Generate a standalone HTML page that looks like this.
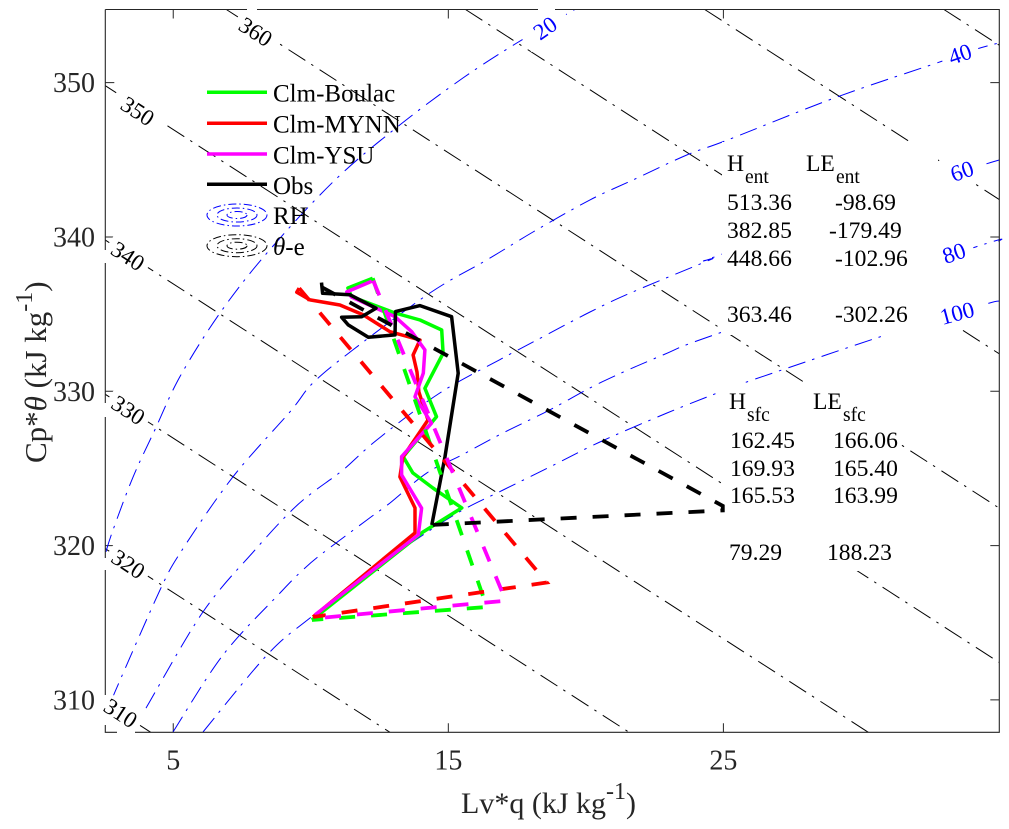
<!DOCTYPE html>
<html lang="en">
<head>
<meta charset="utf-8">
<title>Mixing diagram</title>
<style>
html,body{margin:0;padding:0;background:#fff;width:1009px;height:829px;overflow:hidden;}
svg{display:block;font-family:"Liberation Serif",serif;}
</style>
</head>
<body>
<svg id="chart" width="1009" height="829" viewBox="0 0 1009 829" xmlns="http://www.w3.org/2000/svg">
  <rect x="0" y="0" width="1009" height="829" fill="#fff"/>
  <g id="ticks"></g>
  <g id="theta-lines"></g>
  <g id="rh-lines"></g>
  <rect x="722" y="142" width="216" height="193" fill="#fff"/>
  <rect x="722" y="383" width="179" height="188" fill="#fff"/>
  <g id="contour-labels"></g>
  <path fill="none" stroke="#262626" stroke-width="1.1" d="M105.3 9.5V250M105.3 263V403M105.3 417V558M105.3 570V695M105.3 725V732.3H117M135 732.3H999.3V9.5H555M538 9.5H257M247 9.5H105.3"/>
  <g id="series"></g>

  <g id="y-tick-labels" font-size="28" fill="#262626" text-anchor="end"></g>
  <g id="x-tick-labels" font-size="28" fill="#262626" text-anchor="middle"></g>
  <text x="461" y="813" font-size="30" fill="#262626">Lv*q (kJ kg<tspan dy="-14" font-size="24">-1</tspan><tspan dy="14">)</tspan></text>
  <text transform="translate(46,463) rotate(-90)" font-size="31" fill="#262626">Cp*<tspan font-style="italic">θ</tspan> (kJ kg<tspan dy="-14" font-size="24">-1</tspan><tspan dy="14">)</tspan></text>

  <g font-size="25" fill="#000">
    <line x1="207" x2="267" y1="92.3" y2="92.3" stroke="#00ff00" stroke-width="3.5"/>
    <text x="273" y="101.7">Clm-Boulac</text>
    <line x1="207" x2="267" y1="123.3" y2="123.3" stroke="#ff0000" stroke-width="3.5"/>
    <text x="273" y="132.7">Clm-MYNN</text>
    <line x1="207" x2="267" y1="154" y2="154" stroke="#ff00ff" stroke-width="3.5"/>
    <text x="273" y="163.3">Clm-YSU</text>
    <line x1="207" x2="267" y1="184.3" y2="184.3" stroke="#000" stroke-width="3.5"/>
    <text x="273" y="194">Obs</text>
    <g fill="none" stroke="#0000ff" stroke-width="1" stroke-dasharray="8 3 1.5 3">
      <ellipse cx="237" cy="215" rx="30" ry="11"/>
      <ellipse cx="237" cy="215" rx="20" ry="7"/>
      <ellipse cx="237" cy="215" rx="10" ry="3.5"/>
    </g>
    <text x="273" y="224">RH</text>
    <g fill="none" stroke="#000" stroke-width="1" stroke-dasharray="8 3 1.5 3">
      <ellipse cx="237" cy="245.7" rx="30" ry="11"/>
      <ellipse cx="237" cy="245.7" rx="20" ry="7"/>
      <ellipse cx="237" cy="245.7" rx="10" ry="3.5"/>
    </g>
    <text x="273" y="255"><tspan font-style="italic">θ</tspan>-e</text>
  </g>

  <g font-size="23.6" fill="#000">
    <text x="727" y="171">H</text>
    <text x="745" y="183" font-size="19.5">ent</text>
    <text x="806" y="171">LE</text>
    <text x="836" y="183" font-size="19.5">ent</text>
    <text x="727" y="210">513.36</text>
    <text x="835" y="210">-98.69</text>
    <text x="727" y="238">382.85</text>
    <text x="829" y="238">-179.49</text>
    <text x="727" y="266">448.66</text>
    <text x="835" y="266">-102.96</text>
    <text x="727" y="322">363.46</text>
    <text x="835" y="322">-302.26</text>
  </g>
  <g font-size="23.6" fill="#000">
    <text x="729" y="409">H</text>
    <text x="747" y="421" font-size="19.5">sfc</text>
    <text x="813" y="409">LE</text>
    <text x="843" y="421" font-size="19.5">sfc</text>
    <text x="730" y="448">162.45</text>
    <text x="833" y="448">166.06</text>
    <text x="730" y="476">169.93</text>
    <text x="833" y="476">165.40</text>
    <text x="730" y="503">165.53</text>
    <text x="833" y="503">163.99</text>
    <text x="729" y="560">79.29</text>
    <text x="827" y="560">188.23</text>
  </g>
</svg>
<script>
// ---- chart data ----
var xTicks = [5, 15, 25];
var yTicks = [310, 320, 330, 340, 350];
var thetaLevels = [310, 320, 330, 340, 350, 360, 370, 380, 390];
var thetaSlope = 1.15;
var thetaOffset = -0.2;

var rh20X = [2.55, 2.81, 3.54, 4.33, 5.24, 6.70, 8.44, 10.88, 13.24, 15.53, 17.49, 19.06, 19.60];
var rh20Y = [319.59, 321.01, 324.45, 327.49, 330.93, 335.07, 339.03, 343.69, 347.26, 350.30, 352.57, 354.19, 354.74];
var rh40X = [2.77, 2.99, 4.52, 5.32, 7.17, 9.24, 10.08, 11.53, 14.33, 16.40, 18.08, 20.15, 21.71, 23.67, 25.16, 29.13, 32.98, 34.21, 35.01];
var rh40Y = [309.99, 310.97, 317.12, 319.71, 324.45, 328.66, 330.54, 332.68, 336.37, 338.51, 340.32, 342.40, 343.69, 345.31, 346.29, 349.07, 351.41, 352.18, 352.57];
var rh60X = [4.01, 6.08, 7.97, 9.21, 10.04, 11.17, 12.40, 14.69, 16.99, 18.22, 20.15, 21.71, 24.51, 24.87, 32.87, 34.43, 35.03];
var rh60Y = [309.47, 315.70, 319.71, 322.11, 323.41, 324.90, 326.84, 329.89, 332.16, 333.32, 335.14, 336.44, 338.51, 338.83, 343.82, 344.67, 344.99];
var rh80X = [4.99, 6.81, 8.88, 9.71, 10.44, 12.04, 12.88, 14.22, 15.49, 16.99, 18.69, 20.51, 22.80, 24.87, 34.07, 35.03];
var rh80Y = [307.92, 312.91, 316.93, 318.42, 319.52, 321.66, 322.76, 324.71, 325.87, 327.30, 328.79, 330.54, 332.35, 333.78, 339.29, 339.74];
var rh100X = [6.08, 8.41, 9.97, 12.26, 14.08, 15.53, 16.99, 18.69, 20.51, 22.95, 24.87, 25.96, 31.13, 34.43, 35.03];
var rh100Y = [307.92, 312.91, 315.31, 318.42, 320.69, 322.31, 323.60, 325.09, 326.71, 328.59, 329.95, 330.67, 333.78, 335.59, 335.85];

var boulacX = [12.25, 11.35, 11.48, 13.06, 13.97, 14.76, 14.81, 14.15, 14.57, 13.36, 13.71, 14.44, 15.49, 14.08, 10.04];
var boulacY = [337.32, 336.69, 336.13, 335.07, 334.62, 333.97, 332.46, 330.19, 328.35, 325.76, 324.71, 323.73, 322.44, 320.88, 315.18];
var mynnX = [9.58, 9.49, 9.97, 11.06, 11.91, 12.88, 13.97, 13.72, 13.86, 13.93, 14.26, 13.35, 13.24, 13.79, 13.79, 10.08];
var mynnY = [336.68, 336.42, 335.92, 335.59, 334.95, 333.86, 333.32, 332.35, 331.25, 329.95, 328.14, 325.74, 324.45, 322.44, 320.82, 315.37];
var ysuX = [12.27, 11.31, 11.48, 13.06, 13.67, 14.15, 14.09, 13.79, 14.39, 13.30, 13.30, 14.03, 13.91, 10.15];
var ysuY = [337.17, 336.44, 336.11, 334.83, 333.86, 332.68, 331.17, 329.65, 327.93, 325.76, 324.58, 322.42, 320.69, 315.50];
var obsX = [10.39, 10.43, 11.42, 12.37, 11.85, 11.12, 11.36, 12.09, 13.06, 13.08, 13.97, 15.12, 15.36, 14.88, 14.40];
var obsY = [337.04, 336.35, 336.26, 335.38, 334.83, 334.80, 334.30, 333.50, 333.65, 335.16, 335.55, 334.83, 331.17, 325.76, 321.34];

var boulacMixX = [12.25, 16.40, 10.04];
var boulacMixY = [337.32, 316.02, 315.18];
var mynnMixX = [9.58, 18.58, 10.08];
var mynnMixY = [336.68, 317.61, 315.37];
var ysuMixX = [12.27, 17.09, 10.15];
var ysuMixY = [337.17, 316.43, 315.28];
var obsMixX = [10.39, 24.98, 24.98, 14.40];
var obsMixY = [336.76, 322.57, 322.28, 321.34];

// ---- axis functions ----
var xDomain = [2.53, 35.03], xRange = [105.3, 999.3];
var yDomain = [307.9, 354.74], yRange = [732.3, 9.5];
function sx(v){ return xRange[0] + (v - xDomain[0]) * (xRange[1] - xRange[0]) / (xDomain[1] - xDomain[0]); }
function sy(v){ return yRange[0] + (v - yDomain[0]) * (yRange[1] - yRange[0]) / (yDomain[1] - yDomain[0]); }

var NS = 'http://www.w3.org/2000/svg';
function make(tag, attrs, parent){
  var el = document.createElementNS(NS, tag);
  for (var k in attrs) el.setAttribute(k, attrs[k]);
  parent.appendChild(el);
  return el;
}
function pointsOf(xs, ys){
  return xs.map(function(x, i){ return sx(x).toFixed(1) + ',' + sy(ys[i]).toFixed(1); }).join(' ');
}
// Smooth path through the points (Catmull-Rom to Bezier)
function smoothPath(xs, ys){
  var p = xs.map(function(x, i){ return [sx(x), sy(ys[i])]; });
  var d = 'M' + p[0][0].toFixed(1) + ' ' + p[0][1].toFixed(1);
  for (var i = 0; i < p.length - 1; i++){
    var a = p[Math.max(i-1,0)], b = p[i], c = p[i+1], e = p[Math.min(i+2,p.length-1)];
    var c1x = b[0] + (c[0]-a[0])/6, c1y = b[1] + (c[1]-a[1])/6;
    var c2x = c[0] - (e[0]-b[0])/6, c2y = c[1] - (e[1]-b[1])/6;
    d += 'C' + c1x.toFixed(1) + ' ' + c1y.toFixed(1) + ' ' + c2x.toFixed(1) + ' ' + c2y.toFixed(1) + ' ' + c[0].toFixed(1) + ' ' + c[1].toFixed(1);
  }
  return d;
}

// ticks
var tickG = document.getElementById('ticks');
var xLabG = document.getElementById('x-tick-labels');
var yLabG = document.getElementById('y-tick-labels');
var tickStyle = {stroke:'#262626', 'stroke-width':1};
xTicks.forEach(function(t){
  var d = 'M' + sx(t) + ' ' + yRange[0] + 'v-9M' + sx(t) + ' ' + yRange[1] + 'v9';
  var p = make('path', Object.assign({d:d}, tickStyle), tickG);
  
  
  var l = make('text', {x:sx(t), y:769.5}, xLabG);
  l.textContent = String(t);
  
  
});
yTicks.forEach(function(t){
  var d = 'M' + xRange[0] + ' ' + sy(t) + 'h9M' + xRange[1] + ' ' + sy(t) + 'h-9';
  var p = make('path', Object.assign({d:d}, tickStyle), tickG);
  
  
  var l = make('text', {x:95, y:sy(t) + 9.5}, yLabG);
  l.textContent = String(t);
  
  
});

// theta-e lines, trimmed to the plot box
var thetaG = document.getElementById('theta-lines');
thetaLevels.forEach(function(level){
  var base = level + thetaOffset;
  function yAt(x){ return base - thetaSlope * (x - xDomain[0]); }
  function xAt(y){ return xDomain[0] + (base - y) / thetaSlope; }
  var xa = xDomain[0], ya = yAt(xa);
  if (ya > yDomain[1]) { ya = yDomain[1]; xa = xAt(ya); }
  var xb = xDomain[1], yb = yAt(xb);
  if (yb < yDomain[0]) { yb = yDomain[0]; xb = xAt(yb); }
  var ln = make('line', {x1:sx(xa), y1:sy(ya), x2:sx(xb), y2:sy(yb),
    stroke:'#000', 'stroke-width':1, 'stroke-dasharray':'20 7 2.5 7.5'}, thetaG);
  
  
});

// RH curves
var rhG = document.getElementById('rh-lines');
[['20',rh20X,rh20Y],['40',rh40X,rh40Y],['60',rh60X,rh60Y],['80',rh80X,rh80Y],['100',rh100X,rh100Y]].forEach(function(c){
  var pl = make('path', {d:smoothPath(c[1], c[2]), fill:'none', stroke:'#0000ff', 'stroke-width':1,
    'stroke-dasharray':'18 7 2.5 7.5'}, rhG);
  
  
});

// series
var seriesG = document.getElementById('series');
[['boulac',boulacX,boulacY,'#00ff00'],['mynn',mynnX,mynnY,'#ff0000'],['ysu',ysuX,ysuY,'#ff00ff'],['obs',obsX,obsY,'#000000']].forEach(function(s){
  var pl = make('polyline', {points:pointsOf(s[1], s[2]), fill:'none', stroke:s[3], 'stroke-width':3.5, 'stroke-linejoin':'round'}, seriesG);
  
  
});
[['boulac',boulacMixX,boulacMixY,'#00ff00'],['mynn',mynnMixX,mynnMixY,'#ff0000'],['ysu',ysuMixX,ysuMixY,'#ff00ff'],['obs',obsMixX,obsMixY,'#000000']].forEach(function(s){
  var pl = make('polyline', {points:pointsOf(s[1], s[2]), fill:'none', stroke:s[3], 'stroke-width':3.8,
    'stroke-dasharray':'16 16', 'stroke-linejoin':'miter'}, seriesG);
  
  
});

// rotated contour labels (white backing interrupts the lines)
var thetaLabelText = ['310','320','330','340','350','360'];
var rhLabelText = ['20','40','60','80','100'];
var labG = document.getElementById('contour-labels');
function addLabel(text, cx, cy, rot, w, h, color, size, name){
  var g = make('g', {transform:'translate(' + cx + ',' + cy + ') rotate(' + rot + ')'}, labG);
  
  
  make('rect', {x:-w/2, y:-h/2, width:w, height:h, fill:'#fff'}, g);
  var t = make('text', {x:0, y:size*0.34, 'text-anchor':'middle', fill:color, 'font-size':size}, g);
  t.textContent = text;
}
addLabel(thetaLabelText[0], 120.7, 713, 33, 46, 22, '#000', 23, 'theta-e-label-310');
addLabel(thetaLabelText[1], 128.3, 564, 33, 46, 22, '#000', 23, 'theta-e-label-320');
addLabel(thetaLabelText[2], 128.3, 410, 33, 46, 22, '#000', 23, 'theta-e-label-330');
addLabel(thetaLabelText[3], 128, 256, 33, 46, 22, '#000', 23, 'theta-e-label-340');
addLabel(thetaLabelText[4], 137.7, 111, 33, 56, 22, '#000', 23, 'theta-e-label-350');
addLabel(thetaLabelText[5], 255.7, 31.7, 33, 46, 22, '#000', 23, 'theta-e-label-360');
addLabel(rhLabelText[0], 545, 28, -35, 50, 24, '#0000ff', 23, 'rh-label-20');
addLabel(rhLabelText[1], 960, 54, -19, 38, 24, '#0000ff', 23, 'rh-label-40');
addLabel(rhLabelText[2], 962, 171, -19, 44, 26, '#0000ff', 23, 'rh-label-60');
addLabel(rhLabelText[3], 954, 253, -19, 40, 26, '#0000ff', 23, 'rh-label-80');
addLabel(rhLabelText[4], 957, 313, -15, 52, 32, '#0000ff', 23, 'rh-label-100');
</script>
</body>
</html>
